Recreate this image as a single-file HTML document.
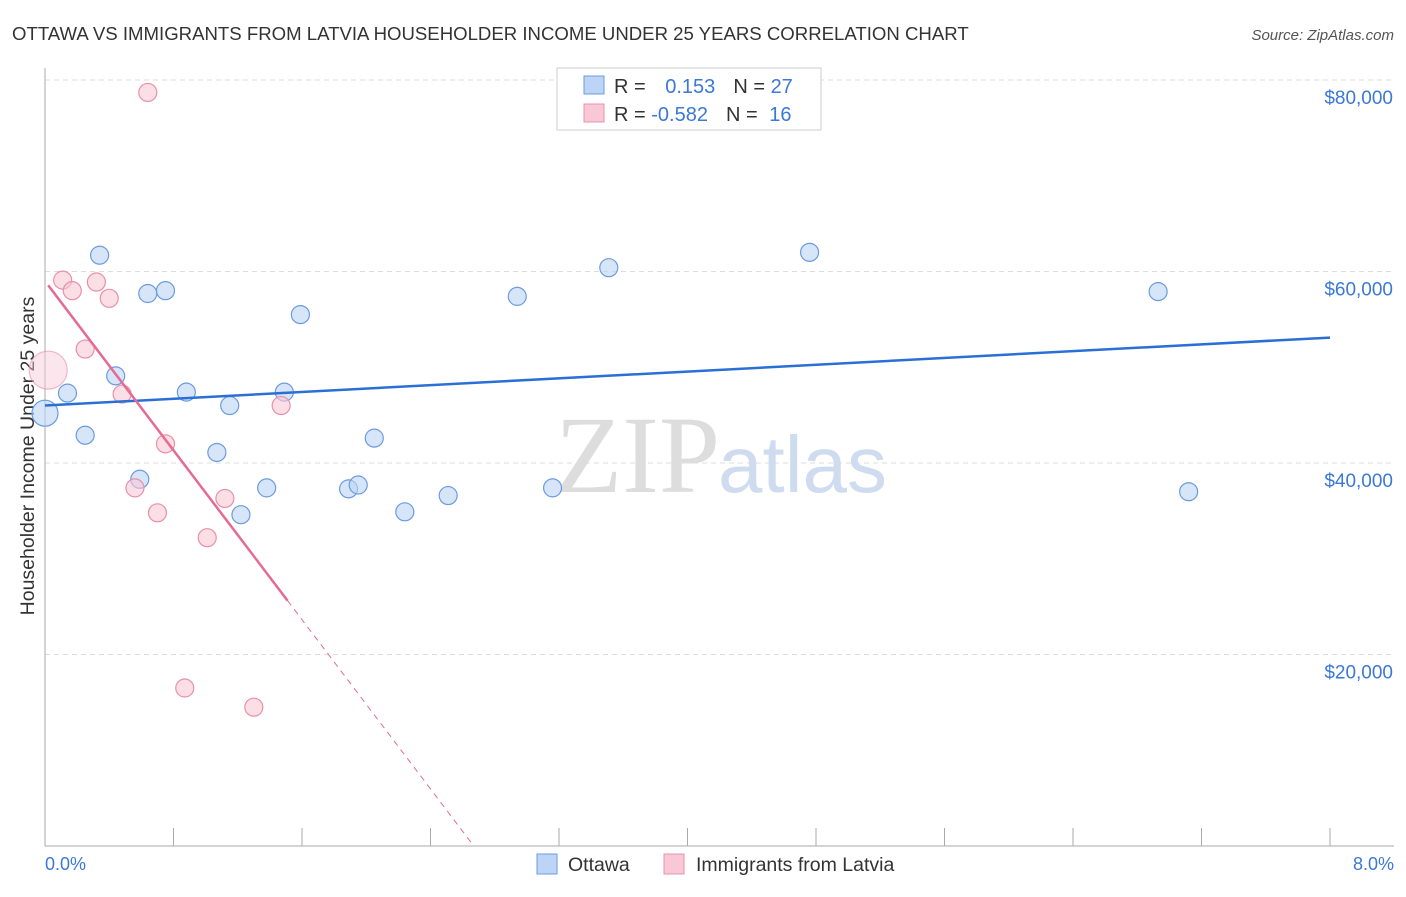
<!DOCTYPE html>
<html><head><meta charset="utf-8"><style>
body{margin:0;background:#fff;font-family:"Liberation Sans",sans-serif}
</style></head><body>
<svg width="1406" height="892" xmlns="http://www.w3.org/2000/svg" font-family="Liberation Sans, sans-serif">
<text x="12" y="40" font-size="18.6" fill="#333">OTTAWA VS IMMIGRANTS FROM LATVIA HOUSEHOLDER INCOME UNDER 25 YEARS CORRELATION CHART</text>
<text x="1394" y="40" font-size="15" fill="#555" text-anchor="end" font-style="italic">Source: ZipAtlas.com</text>
<g id="grid"></g>
<text x="555" y="492" font-size="110" fill="#ddd" font-family="Liberation Serif, serif">ZIP</text>
<text x="718" y="492" font-size="80" fill="#cfdcf0">atlas</text>
<line x1="45" y1="68" x2="45" y2="846" stroke="#aaa"/>
<line x1="45" y1="846" x2="1394" y2="846" stroke="#aaa"/>
<text transform="translate(34,456) rotate(-90)" font-size="19.5" fill="#333" text-anchor="middle">Householder Income Under 25 years</text>
<text x="45" y="870" font-size="18" fill="#3b78d8">0.0%</text>
<text x="1394" y="870" font-size="18" fill="#3b78d8" text-anchor="end">8.0%</text>
<g id="marks"></g>
<g>
<rect x="557" y="68" width="264" height="62" fill="#fff" stroke="#ccc"/>
<rect x="584" y="76" width="20" height="18" fill="#bcd4f5" stroke="#6a9be0"/>
<rect x="584" y="104" width="20" height="18" fill="#f9c8d6" stroke="#e890aa"/>
<text x="614" y="93" font-size="20" fill="#333">R = <tspan fill="#3b78d8" dx="14">0.153</tspan><tspan dx="18">N = </tspan><tspan fill="#3b78d8">27</tspan></text>
<text x="614" y="121" font-size="20" fill="#333">R = <tspan fill="#3b78d8">-0.582</tspan><tspan dx="18">N = </tspan><tspan fill="#3b78d8" dx="6">16</tspan></text>
</g>
<g>
<rect x="537" y="854" width="20" height="20" fill="#bcd4f5" stroke="#6a9be0"/>
<text x="568" y="871" font-size="19.5" fill="#333">Ottawa</text>
<rect x="664" y="854" width="20" height="20" fill="#f9c8d6" stroke="#e890aa"/>
<text x="696" y="871" font-size="19.5" fill="#333">Immigrants from Latvia</text>
</g>
</svg>
<script>
const yTicks=[20000,40000,60000,80000];
const yTickLabels=["$20,000","$40,000","$60,000","$80,000"];
const xTicks=[0,0.8,1.6,2.4,3.2,4.0,4.8,5.6,6.4,7.2,8.0];
const ottawaX=[0,0.14,0.25,0.34,0.44,0.59,0.64,0.75,0.88,1.07,1.15,1.22,1.38,1.49,1.59,1.89,1.95,2.05,2.24,2.51,2.94,3.16,3.31,3.51,4.76,6.93,7.12];
const ottawaY=[45200,47300,42900,61700,49100,38300,57700,58000,47400,41100,46000,34600,37400,47400,55500,37300,37700,42600,34900,36600,57400,37400,78200,60400,62000,57900,37000];
const ottawaR=[13,9,9,9,9,9,9,9,9,9,9,9,9,9,9,9,9,9,9,9,9,9,9,9,9,9,9];
const latviaX=[0.02,0.11,0.17,0.25,0.32,0.40,0.48,0.56,0.64,0.70,0.75,0.87,1.01,1.12,1.30,1.47];
const latviaY=[49700,59100,58000,51900,58900,57200,47200,37400,78700,34800,42000,16500,32200,36300,14500,46000];
const latviaR=[19,9,9,9,9,9,9,9,9,9,9,9,9,9,9,9];
const ottawaTrend=[46000,53100];
const latviaTrend=[59000,-22100];
const xs=v=>45+v/8*1285;
const ys=v=>846-v/20000*191.5;
const NS="http://www.w3.org/2000/svg";
const grid=document.getElementById('grid'),marks=document.getElementById('marks');
function mk(p,tag,a){const e=document.createElementNS(NS,tag);for(const k in a)e.setAttribute(k,a[k]);p.appendChild(e);return e;}
yTicks.forEach((t,i)=>{
 const l=mk(grid,'line',{x1:45,x2:1394,y1:ys(t),y2:ys(t),stroke:'#ddd','stroke-dasharray':'5,4'});
 
 
 const tx=mk(grid,'text',{x:1393,y:ys(t)+24,'font-size':19,fill:'#3b78d8','text-anchor':'end'});
 tx.textContent=yTickLabels[i];
 
 
});
xTicks.forEach(t=>{
 const l=mk(grid,'line',{x1:xs(t),x2:xs(t),y1:828,y2:846,stroke:'#aaa'});
 
 
});
ottawaX.forEach((x,i)=>{
 const c=mk(marks,'circle',{cx:xs(x),cy:ys(ottawaY[i]),r:ottawaR[i],fill:'#bcd4f5','fill-opacity':0.6,stroke:'#6a9be0','stroke-width':1.2});
 
 
});
latviaX.forEach((x,i)=>{
 const c=mk(marks,'circle',{cx:xs(x),cy:ys(latviaY[i]),r:latviaR[i],fill:'#f9c8d6','fill-opacity':i==0?0.45:0.6,stroke:'#e890aa','stroke-width':1.2,'stroke-opacity':i==0?0.6:1});
 
 
});
const ot=mk(marks,'line',{x1:xs(0),y1:ys(ottawaTrend[0]),x2:xs(8),y2:ys(ottawaTrend[1]),stroke:'#2a6fd6','stroke-width':2.5});


const lv=x=>latviaTrend[0]+latviaTrend[1]*x;
const lt=mk(marks,'line',{x1:xs(0.02),y1:ys(lv(0.02)),x2:xs(1.51),y2:ys(lv(1.51)),stroke:'#e56b94','stroke-width':2.5});


const x0=-latviaTrend[0]/latviaTrend[1];
const ld=mk(marks,'line',{x1:xs(1.51),y1:ys(lv(1.51)),x2:xs(x0),y2:ys(0),stroke:'#e56b94','stroke-width':1,'stroke-dasharray':'6,5'});


</script>
</body></html>
